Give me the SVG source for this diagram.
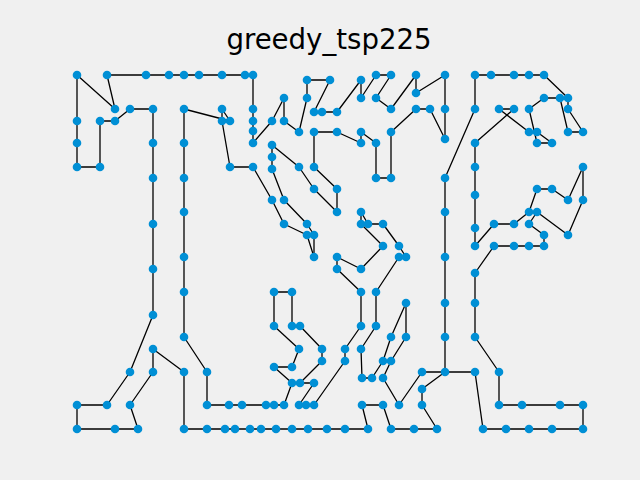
<svg xmlns="http://www.w3.org/2000/svg" width="640" height="480" viewBox="0 0 640 480">
<style>
.bg{fill:#f0f0f0}
.t{font-family:"DejaVu Sans",sans-serif;font-size:27.6px;fill:#000;text-anchor:middle}
#edges line{stroke:#000;stroke-width:1.3;stroke-linecap:round}
.nodes circle{fill:#008fd5}
</style>
<rect class="bg" x="0" y="0" width="640" height="480"/>
<text class="t" x="329" y="49">greedy_tsp225</text>
<g id="edges">
<line x1="77" y1="75" x2="77" y2="121"/><line x1="77" y1="121" x2="77" y2="143"/><line x1="77" y1="143" x2="77" y2="167"/><line x1="77" y1="167" x2="100" y2="167"/><line x1="100" y1="167" x2="100" y2="121"/><line x1="100" y1="121" x2="115" y2="121"/><line x1="115" y1="121" x2="130" y2="109"/><line x1="130" y1="109" x2="153" y2="109"/><line x1="153" y1="109" x2="153" y2="143"/><line x1="153" y1="143" x2="153" y2="178"/><line x1="153" y1="178" x2="153" y2="224"/><line x1="153" y1="224" x2="153" y2="269"/><line x1="153" y1="269" x2="153" y2="315"/><line x1="153" y1="315" x2="130" y2="372"/><line x1="130" y1="372" x2="107" y2="405"/><line x1="107" y1="405" x2="77" y2="405"/><line x1="77" y1="405" x2="77" y2="429"/><line x1="77" y1="429" x2="115" y2="429"/><line x1="115" y1="429" x2="138" y2="429"/><line x1="138" y1="429" x2="130" y2="405"/><line x1="130" y1="405" x2="153" y2="372"/><line x1="153" y1="372" x2="153" y2="349"/><line x1="153" y1="349" x2="184" y2="372"/><line x1="184" y1="372" x2="184" y2="429"/><line x1="184" y1="429" x2="207" y2="429"/><line x1="207" y1="429" x2="225" y2="429"/><line x1="225" y1="429" x2="235" y2="429"/><line x1="235" y1="429" x2="250" y2="429"/><line x1="250" y1="429" x2="261" y2="429"/><line x1="261" y1="429" x2="276" y2="429"/><line x1="276" y1="429" x2="292" y2="429"/><line x1="292" y1="429" x2="308" y2="429"/><line x1="308" y1="429" x2="327" y2="429"/><line x1="327" y1="429" x2="345" y2="429"/><line x1="345" y1="429" x2="368" y2="429"/><line x1="368" y1="429" x2="362" y2="405"/><line x1="362" y1="405" x2="383" y2="405"/><line x1="383" y1="405" x2="391" y2="429"/><line x1="391" y1="429" x2="414" y2="429"/><line x1="414" y1="429" x2="437" y2="429"/><line x1="437" y1="429" x2="422" y2="405"/><line x1="422" y1="405" x2="422" y2="389"/><line x1="422" y1="389" x2="445" y2="372"/><line x1="445" y1="372" x2="445" y2="337"/><line x1="445" y1="337" x2="445" y2="303"/><line x1="445" y1="303" x2="445" y2="257"/><line x1="445" y1="257" x2="445" y2="212"/><line x1="445" y1="212" x2="445" y2="178"/><line x1="445" y1="178" x2="475" y2="109"/><line x1="475" y1="109" x2="475" y2="75"/><line x1="475" y1="75" x2="491" y2="75"/><line x1="491" y1="75" x2="514" y2="75"/><line x1="514" y1="75" x2="529" y2="75"/><line x1="529" y1="75" x2="544" y2="75"/><line x1="544" y1="75" x2="568" y2="98"/><line x1="568" y1="98" x2="568" y2="109"/><line x1="568" y1="109" x2="583" y2="132"/><line x1="583" y1="132" x2="568" y2="132"/><line x1="568" y1="132" x2="560" y2="98"/><line x1="560" y1="98" x2="544" y2="98"/><line x1="544" y1="98" x2="529" y2="109"/><line x1="529" y1="109" x2="537" y2="143"/><line x1="537" y1="143" x2="552" y2="143"/><line x1="552" y1="143" x2="537" y2="132"/><line x1="537" y1="132" x2="529" y2="132"/><line x1="529" y1="132" x2="499" y2="109"/><line x1="499" y1="109" x2="514" y2="109"/><line x1="514" y1="109" x2="475" y2="143"/><line x1="475" y1="143" x2="475" y2="167"/><line x1="475" y1="167" x2="475" y2="195"/><line x1="475" y1="195" x2="475" y2="228"/><line x1="475" y1="228" x2="475" y2="246"/><line x1="475" y1="246" x2="494" y2="224"/><line x1="494" y1="224" x2="514" y2="224"/><line x1="514" y1="224" x2="529" y2="212"/><line x1="529" y1="212" x2="537" y2="189"/><line x1="537" y1="189" x2="552" y2="189"/><line x1="552" y1="189" x2="568" y2="200"/><line x1="568" y1="200" x2="583" y2="167"/><line x1="583" y1="167" x2="583" y2="200"/><line x1="583" y1="200" x2="568" y2="235"/><line x1="568" y1="235" x2="537" y2="212"/><line x1="537" y1="212" x2="529" y2="224"/><line x1="529" y1="224" x2="544" y2="235"/><line x1="544" y1="235" x2="544" y2="246"/><line x1="544" y1="246" x2="529" y2="246"/><line x1="529" y1="246" x2="514" y2="246"/><line x1="514" y1="246" x2="494" y2="246"/><line x1="494" y1="246" x2="475" y2="273"/><line x1="475" y1="273" x2="475" y2="303"/><line x1="475" y1="303" x2="475" y2="337"/><line x1="475" y1="337" x2="499" y2="372"/><line x1="499" y1="372" x2="499" y2="405"/><line x1="499" y1="405" x2="522" y2="405"/><line x1="522" y1="405" x2="560" y2="405"/><line x1="560" y1="405" x2="583" y2="405"/><line x1="583" y1="405" x2="583" y2="429"/><line x1="583" y1="429" x2="552" y2="429"/><line x1="552" y1="429" x2="529" y2="429"/><line x1="529" y1="429" x2="506" y2="429"/><line x1="506" y1="429" x2="483" y2="429"/><line x1="483" y1="429" x2="475" y2="372"/><line x1="475" y1="372" x2="422" y2="372"/><line x1="422" y1="372" x2="399" y2="405"/><line x1="399" y1="405" x2="383" y2="378"/><line x1="383" y1="378" x2="391" y2="361"/><line x1="391" y1="361" x2="406" y2="337"/><line x1="406" y1="337" x2="406" y2="303"/><line x1="406" y1="303" x2="391" y2="337"/><line x1="391" y1="337" x2="383" y2="361"/><line x1="383" y1="361" x2="372" y2="378"/><line x1="372" y1="378" x2="362" y2="378"/><line x1="362" y1="378" x2="361" y2="349"/><line x1="361" y1="349" x2="376" y2="326"/><line x1="376" y1="326" x2="376" y2="292"/><line x1="376" y1="292" x2="399" y2="257"/><line x1="399" y1="257" x2="406" y2="257"/><line x1="406" y1="257" x2="399" y2="246"/><line x1="399" y1="246" x2="383" y2="224"/><line x1="383" y1="224" x2="368" y2="224"/><line x1="368" y1="224" x2="361" y2="212"/><line x1="361" y1="212" x2="361" y2="224"/><line x1="361" y1="224" x2="383" y2="246"/><line x1="383" y1="246" x2="361" y2="269"/><line x1="361" y1="269" x2="337" y2="257"/><line x1="337" y1="257" x2="337" y2="269"/><line x1="337" y1="269" x2="361" y2="292"/><line x1="361" y1="292" x2="361" y2="326"/><line x1="361" y1="326" x2="345" y2="349"/><line x1="345" y1="349" x2="345" y2="361"/><line x1="345" y1="361" x2="314" y2="405"/><line x1="314" y1="405" x2="306" y2="405"/><line x1="306" y1="405" x2="299" y2="405"/><line x1="299" y1="405" x2="314" y2="383"/><line x1="314" y1="383" x2="300" y2="383"/><line x1="300" y1="383" x2="322" y2="361"/><line x1="322" y1="361" x2="322" y2="349"/><line x1="322" y1="349" x2="300" y2="326"/><line x1="300" y1="326" x2="292" y2="326"/><line x1="292" y1="326" x2="292" y2="292"/><line x1="292" y1="292" x2="274" y2="292"/><line x1="274" y1="292" x2="274" y2="326"/><line x1="274" y1="326" x2="299" y2="349"/><line x1="299" y1="349" x2="292" y2="367"/><line x1="292" y1="367" x2="274" y2="367"/><line x1="274" y1="367" x2="292" y2="383"/><line x1="292" y1="383" x2="284" y2="405"/><line x1="284" y1="405" x2="274" y2="405"/><line x1="274" y1="405" x2="266" y2="405"/><line x1="266" y1="405" x2="242" y2="405"/><line x1="242" y1="405" x2="229" y2="405"/><line x1="229" y1="405" x2="207" y2="405"/><line x1="207" y1="405" x2="207" y2="372"/><line x1="207" y1="372" x2="184" y2="337"/><line x1="184" y1="337" x2="184" y2="292"/><line x1="184" y1="292" x2="184" y2="257"/><line x1="184" y1="257" x2="184" y2="212"/><line x1="184" y1="212" x2="184" y2="178"/><line x1="184" y1="178" x2="184" y2="143"/><line x1="184" y1="143" x2="184" y2="109"/><line x1="184" y1="109" x2="230" y2="121"/><line x1="230" y1="121" x2="222" y2="109"/><line x1="222" y1="109" x2="222" y2="121"/><line x1="222" y1="121" x2="230" y2="167"/><line x1="230" y1="167" x2="253" y2="167"/><line x1="253" y1="167" x2="272" y2="200"/><line x1="272" y1="200" x2="284" y2="224"/><line x1="284" y1="224" x2="307" y2="235"/><line x1="307" y1="235" x2="314" y2="257"/><line x1="314" y1="257" x2="314" y2="235"/><line x1="314" y1="235" x2="307" y2="224"/><line x1="307" y1="224" x2="284" y2="200"/><line x1="284" y1="200" x2="272" y2="169"/><line x1="272" y1="169" x2="272" y2="157"/><line x1="272" y1="157" x2="272" y2="145"/><line x1="272" y1="145" x2="299" y2="167"/><line x1="299" y1="167" x2="314" y2="189"/><line x1="314" y1="189" x2="337" y2="212"/><line x1="337" y1="212" x2="337" y2="189"/><line x1="337" y1="189" x2="314" y2="167"/><line x1="314" y1="167" x2="314" y2="132"/><line x1="314" y1="132" x2="337" y2="132"/><line x1="337" y1="132" x2="361" y2="143"/><line x1="361" y1="143" x2="361" y2="132"/><line x1="361" y1="132" x2="376" y2="143"/><line x1="376" y1="143" x2="376" y2="178"/><line x1="376" y1="178" x2="391" y2="178"/><line x1="391" y1="178" x2="391" y2="132"/><line x1="391" y1="132" x2="416" y2="109"/><line x1="416" y1="109" x2="430" y2="109"/><line x1="430" y1="109" x2="445" y2="139"/><line x1="445" y1="139" x2="445" y2="109"/><line x1="445" y1="109" x2="445" y2="75"/><line x1="445" y1="75" x2="416" y2="93"/><line x1="416" y1="93" x2="416" y2="75"/><line x1="416" y1="75" x2="391" y2="109"/><line x1="391" y1="109" x2="376" y2="98"/><line x1="376" y1="98" x2="391" y2="75"/><line x1="391" y1="75" x2="376" y2="75"/><line x1="376" y1="75" x2="361" y2="98"/><line x1="361" y1="98" x2="361" y2="80"/><line x1="361" y1="80" x2="337" y2="112"/><line x1="337" y1="112" x2="322" y2="112"/><line x1="322" y1="112" x2="314" y2="112"/><line x1="314" y1="112" x2="330" y2="80"/><line x1="330" y1="80" x2="307" y2="80"/><line x1="307" y1="80" x2="307" y2="98"/><line x1="307" y1="98" x2="299" y2="132"/><line x1="299" y1="132" x2="284" y2="121"/><line x1="284" y1="121" x2="284" y2="98"/><line x1="284" y1="98" x2="272" y2="121"/><line x1="272" y1="121" x2="253" y2="143"/><line x1="253" y1="143" x2="253" y2="131"/><line x1="253" y1="131" x2="253" y2="121"/><line x1="253" y1="121" x2="253" y2="109"/><line x1="253" y1="109" x2="253" y2="75"/><line x1="253" y1="75" x2="245" y2="75"/><line x1="245" y1="75" x2="222" y2="75"/><line x1="222" y1="75" x2="199" y2="75"/><line x1="199" y1="75" x2="184" y2="75"/><line x1="184" y1="75" x2="169" y2="75"/><line x1="169" y1="75" x2="146" y2="75"/><line x1="146" y1="75" x2="107" y2="75"/><line x1="107" y1="75" x2="115" y2="109"/><line x1="115" y1="109" x2="77" y2="75"/>
</g>
<g class="nodes">
<g id="n1"><circle cx="77" cy="75" r="4.3"/></g><g id="n2"><circle cx="77" cy="121" r="4.3"/></g><g id="n3"><circle cx="77" cy="143" r="4.3"/></g><g id="n4"><circle cx="77" cy="167" r="4.3"/></g><g id="n5"><circle cx="100" cy="167" r="4.3"/></g><g id="n6"><circle cx="100" cy="121" r="4.3"/></g><g id="n7"><circle cx="115" cy="121" r="4.3"/></g><g id="n8"><circle cx="130" cy="109" r="4.3"/></g><g id="n9"><circle cx="153" cy="109" r="4.3"/></g><g id="n10"><circle cx="153" cy="143" r="4.3"/></g>
<g id="n11"><circle cx="153" cy="178" r="4.3"/></g><g id="n12"><circle cx="153" cy="224" r="4.3"/></g><g id="n13"><circle cx="153" cy="269" r="4.3"/></g><g id="n14"><circle cx="153" cy="315" r="4.3"/></g><g id="n15"><circle cx="130" cy="372" r="4.3"/></g><g id="n16"><circle cx="107" cy="405" r="4.3"/></g><g id="n17"><circle cx="77" cy="405" r="4.3"/></g><g id="n18"><circle cx="77" cy="429" r="4.3"/></g><g id="n19"><circle cx="115" cy="429" r="4.3"/></g><g id="n20"><circle cx="138" cy="429" r="4.3"/></g>
<g id="n21"><circle cx="130" cy="405" r="4.3"/></g><g id="n22"><circle cx="153" cy="372" r="4.3"/></g><g id="n23"><circle cx="153" cy="349" r="4.3"/></g><g id="n24"><circle cx="184" cy="372" r="4.3"/></g><g id="n25"><circle cx="184" cy="429" r="4.3"/></g><g id="n26"><circle cx="207" cy="429" r="4.3"/></g><g id="n27"><circle cx="225" cy="429" r="4.3"/></g><g id="n28"><circle cx="235" cy="429" r="4.3"/></g><g id="n29"><circle cx="250" cy="429" r="4.3"/></g><g id="n30"><circle cx="261" cy="429" r="4.3"/></g>
<g id="n31"><circle cx="276" cy="429" r="4.3"/></g><g id="n32"><circle cx="292" cy="429" r="4.3"/></g><g id="n33"><circle cx="308" cy="429" r="4.3"/></g><g id="n34"><circle cx="327" cy="429" r="4.3"/></g><g id="n35"><circle cx="345" cy="429" r="4.3"/></g><g id="n36"><circle cx="368" cy="429" r="4.3"/></g><g id="n37"><circle cx="362" cy="405" r="4.3"/></g><g id="n38"><circle cx="383" cy="405" r="4.3"/></g><g id="n39"><circle cx="391" cy="429" r="4.3"/></g><g id="n40"><circle cx="414" cy="429" r="4.3"/></g>
<g id="n41"><circle cx="437" cy="429" r="4.3"/></g><g id="n42"><circle cx="422" cy="405" r="4.3"/></g><g id="n43"><circle cx="422" cy="389" r="4.3"/></g><g id="n44"><circle cx="445" cy="372" r="4.3"/></g><g id="n45"><circle cx="445" cy="337" r="4.3"/></g><g id="n46"><circle cx="445" cy="303" r="4.3"/></g><g id="n47"><circle cx="445" cy="257" r="4.3"/></g><g id="n48"><circle cx="445" cy="212" r="4.3"/></g><g id="n49"><circle cx="445" cy="178" r="4.3"/></g><g id="n50"><circle cx="475" cy="109" r="4.3"/></g>
<g id="n51"><circle cx="475" cy="75" r="4.3"/></g><g id="n52"><circle cx="491" cy="75" r="4.3"/></g><g id="n53"><circle cx="514" cy="75" r="4.3"/></g><g id="n54"><circle cx="529" cy="75" r="4.3"/></g><g id="n55"><circle cx="544" cy="75" r="4.3"/></g><g id="n56"><circle cx="568" cy="98" r="4.3"/></g><g id="n57"><circle cx="568" cy="109" r="4.3"/></g><g id="n58"><circle cx="583" cy="132" r="4.3"/></g><g id="n59"><circle cx="568" cy="132" r="4.3"/></g><g id="n60"><circle cx="560" cy="98" r="4.3"/></g>
<g id="n61"><circle cx="544" cy="98" r="4.3"/></g><g id="n62"><circle cx="529" cy="109" r="4.3"/></g><g id="n63"><circle cx="537" cy="143" r="4.3"/></g><g id="n64"><circle cx="552" cy="143" r="4.3"/></g><g id="n65"><circle cx="537" cy="132" r="4.3"/></g><g id="n66"><circle cx="529" cy="132" r="4.3"/></g><g id="n67"><circle cx="499" cy="109" r="4.3"/></g><g id="n68"><circle cx="514" cy="109" r="4.3"/></g><g id="n69"><circle cx="475" cy="143" r="4.3"/></g><g id="n70"><circle cx="475" cy="167" r="4.3"/></g>
<g id="n71"><circle cx="475" cy="195" r="4.3"/></g><g id="n72"><circle cx="475" cy="228" r="4.3"/></g><g id="n73"><circle cx="475" cy="246" r="4.3"/></g><g id="n74"><circle cx="494" cy="224" r="4.3"/></g><g id="n75"><circle cx="514" cy="224" r="4.3"/></g><g id="n76"><circle cx="529" cy="212" r="4.3"/></g><g id="n77"><circle cx="537" cy="189" r="4.3"/></g><g id="n78"><circle cx="552" cy="189" r="4.3"/></g><g id="n79"><circle cx="568" cy="200" r="4.3"/></g><g id="n80"><circle cx="583" cy="167" r="4.3"/></g>
<g id="n81"><circle cx="583" cy="200" r="4.3"/></g><g id="n82"><circle cx="568" cy="235" r="4.3"/></g><g id="n83"><circle cx="537" cy="212" r="4.3"/></g><g id="n84"><circle cx="529" cy="224" r="4.3"/></g><g id="n85"><circle cx="544" cy="235" r="4.3"/></g><g id="n86"><circle cx="544" cy="246" r="4.3"/></g><g id="n87"><circle cx="529" cy="246" r="4.3"/></g><g id="n88"><circle cx="514" cy="246" r="4.3"/></g><g id="n89"><circle cx="494" cy="246" r="4.3"/></g><g id="n90"><circle cx="475" cy="273" r="4.3"/></g>
<g id="n91"><circle cx="475" cy="303" r="4.3"/></g><g id="n92"><circle cx="475" cy="337" r="4.3"/></g><g id="n93"><circle cx="499" cy="372" r="4.3"/></g><g id="n94"><circle cx="499" cy="405" r="4.3"/></g><g id="n95"><circle cx="522" cy="405" r="4.3"/></g><g id="n96"><circle cx="560" cy="405" r="4.3"/></g><g id="n97"><circle cx="583" cy="405" r="4.3"/></g><g id="n98"><circle cx="583" cy="429" r="4.3"/></g><g id="n99"><circle cx="552" cy="429" r="4.3"/></g><g id="n100"><circle cx="529" cy="429" r="4.3"/></g>
<g id="n101"><circle cx="506" cy="429" r="4.3"/></g><g id="n102"><circle cx="483" cy="429" r="4.3"/></g><g id="n103"><circle cx="475" cy="372" r="4.3"/></g><g id="n104"><circle cx="422" cy="372" r="4.3"/></g><g id="n105"><circle cx="399" cy="405" r="4.3"/></g><g id="n106"><circle cx="383" cy="378" r="4.3"/></g><g id="n107"><circle cx="391" cy="361" r="4.3"/></g><g id="n108"><circle cx="406" cy="337" r="4.3"/></g><g id="n109"><circle cx="406" cy="303" r="4.3"/></g><g id="n110"><circle cx="391" cy="337" r="4.3"/></g>
<g id="n111"><circle cx="383" cy="361" r="4.3"/></g><g id="n112"><circle cx="372" cy="378" r="4.3"/></g><g id="n113"><circle cx="362" cy="378" r="4.3"/></g><g id="n114"><circle cx="361" cy="349" r="4.3"/></g><g id="n115"><circle cx="376" cy="326" r="4.3"/></g><g id="n116"><circle cx="376" cy="292" r="4.3"/></g><g id="n117"><circle cx="399" cy="257" r="4.3"/></g><g id="n118"><circle cx="406" cy="257" r="4.3"/></g><g id="n119"><circle cx="399" cy="246" r="4.3"/></g><g id="n120"><circle cx="383" cy="224" r="4.3"/></g>
<g id="n121"><circle cx="368" cy="224" r="4.3"/></g><g id="n122"><circle cx="361" cy="212" r="4.3"/></g><g id="n123"><circle cx="361" cy="224" r="4.3"/></g><g id="n124"><circle cx="383" cy="246" r="4.3"/></g><g id="n125"><circle cx="361" cy="269" r="4.3"/></g><g id="n126"><circle cx="337" cy="257" r="4.3"/></g><g id="n127"><circle cx="337" cy="269" r="4.3"/></g><g id="n128"><circle cx="361" cy="292" r="4.3"/></g><g id="n129"><circle cx="361" cy="326" r="4.3"/></g><g id="n130"><circle cx="345" cy="349" r="4.3"/></g>
<g id="n131"><circle cx="345" cy="361" r="4.3"/></g><g id="n132"><circle cx="314" cy="405" r="4.3"/></g><g id="n133"><circle cx="306" cy="405" r="4.3"/></g><g id="n134"><circle cx="299" cy="405" r="4.3"/></g><g id="n135"><circle cx="314" cy="383" r="4.3"/></g><g id="n136"><circle cx="300" cy="383" r="4.3"/></g><g id="n137"><circle cx="322" cy="361" r="4.3"/></g><g id="n138"><circle cx="322" cy="349" r="4.3"/></g><g id="n139"><circle cx="300" cy="326" r="4.3"/></g><g id="n140"><circle cx="292" cy="326" r="4.3"/></g>
<g id="n141"><circle cx="292" cy="292" r="4.3"/></g><g id="n142"><circle cx="274" cy="292" r="4.3"/></g><g id="n143"><circle cx="274" cy="326" r="4.3"/></g><g id="n144"><circle cx="299" cy="349" r="4.3"/></g><g id="n145"><circle cx="292" cy="367" r="4.3"/></g><g id="n146"><circle cx="274" cy="367" r="4.3"/></g><g id="n147"><circle cx="292" cy="383" r="4.3"/></g><g id="n148"><circle cx="284" cy="405" r="4.3"/></g><g id="n149"><circle cx="274" cy="405" r="4.3"/></g><g id="n150"><circle cx="266" cy="405" r="4.3"/></g>
<g id="n151"><circle cx="242" cy="405" r="4.3"/></g><g id="n152"><circle cx="229" cy="405" r="4.3"/></g><g id="n153"><circle cx="207" cy="405" r="4.3"/></g><g id="n154"><circle cx="207" cy="372" r="4.3"/></g><g id="n155"><circle cx="184" cy="337" r="4.3"/></g><g id="n156"><circle cx="184" cy="292" r="4.3"/></g><g id="n157"><circle cx="184" cy="257" r="4.3"/></g><g id="n158"><circle cx="184" cy="212" r="4.3"/></g><g id="n159"><circle cx="184" cy="178" r="4.3"/></g><g id="n160"><circle cx="184" cy="143" r="4.3"/></g>
<g id="n161"><circle cx="184" cy="109" r="4.3"/></g><g id="n162"><circle cx="230" cy="121" r="4.3"/></g><g id="n163"><circle cx="222" cy="109" r="4.3"/></g><g id="n164"><circle cx="222" cy="121" r="4.3"/></g><g id="n165"><circle cx="230" cy="167" r="4.3"/></g><g id="n166"><circle cx="253" cy="167" r="4.3"/></g><g id="n167"><circle cx="272" cy="200" r="4.3"/></g><g id="n168"><circle cx="284" cy="224" r="4.3"/></g><g id="n169"><circle cx="307" cy="235" r="4.3"/></g><g id="n170"><circle cx="314" cy="257" r="4.3"/></g>
<g id="n171"><circle cx="314" cy="235" r="4.3"/></g><g id="n172"><circle cx="307" cy="224" r="4.3"/></g><g id="n173"><circle cx="284" cy="200" r="4.3"/></g><g id="n174"><circle cx="272" cy="169" r="4.3"/></g><g id="n175"><circle cx="272" cy="157" r="4.3"/></g><g id="n176"><circle cx="272" cy="145" r="4.3"/></g><g id="n177"><circle cx="299" cy="167" r="4.3"/></g><g id="n178"><circle cx="314" cy="189" r="4.3"/></g><g id="n179"><circle cx="337" cy="212" r="4.3"/></g><g id="n180"><circle cx="337" cy="189" r="4.3"/></g>
<g id="n181"><circle cx="314" cy="167" r="4.3"/></g><g id="n182"><circle cx="314" cy="132" r="4.3"/></g><g id="n183"><circle cx="337" cy="132" r="4.3"/></g><g id="n184"><circle cx="361" cy="143" r="4.3"/></g><g id="n185"><circle cx="361" cy="132" r="4.3"/></g><g id="n186"><circle cx="376" cy="143" r="4.3"/></g><g id="n187"><circle cx="376" cy="178" r="4.3"/></g><g id="n188"><circle cx="391" cy="178" r="4.3"/></g><g id="n189"><circle cx="391" cy="132" r="4.3"/></g><g id="n190"><circle cx="416" cy="109" r="4.3"/></g>
<g id="n191"><circle cx="430" cy="109" r="4.3"/></g><g id="n192"><circle cx="445" cy="139" r="4.3"/></g><g id="n193"><circle cx="445" cy="109" r="4.3"/></g><g id="n194"><circle cx="445" cy="75" r="4.3"/></g><g id="n195"><circle cx="416" cy="93" r="4.3"/></g><g id="n196"><circle cx="416" cy="75" r="4.3"/></g><g id="n197"><circle cx="391" cy="109" r="4.3"/></g><g id="n198"><circle cx="376" cy="98" r="4.3"/></g><g id="n199"><circle cx="391" cy="75" r="4.3"/></g><g id="n200"><circle cx="376" cy="75" r="4.3"/></g>
<g id="n201"><circle cx="361" cy="98" r="4.3"/></g><g id="n202"><circle cx="361" cy="80" r="4.3"/></g><g id="n203"><circle cx="337" cy="112" r="4.3"/></g><g id="n204"><circle cx="322" cy="112" r="4.3"/></g><g id="n205"><circle cx="314" cy="112" r="4.3"/></g><g id="n206"><circle cx="330" cy="80" r="4.3"/></g><g id="n207"><circle cx="307" cy="80" r="4.3"/></g><g id="n208"><circle cx="307" cy="98" r="4.3"/></g><g id="n209"><circle cx="299" cy="132" r="4.3"/></g><g id="n210"><circle cx="284" cy="121" r="4.3"/></g>
<g id="n211"><circle cx="284" cy="98" r="4.3"/></g><g id="n212"><circle cx="272" cy="121" r="4.3"/></g><g id="n213"><circle cx="253" cy="143" r="4.3"/></g><g id="n214"><circle cx="253" cy="131" r="4.3"/></g><g id="n215"><circle cx="253" cy="121" r="4.3"/></g><g id="n216"><circle cx="253" cy="109" r="4.3"/></g><g id="n217"><circle cx="253" cy="75" r="4.3"/></g><g id="n218"><circle cx="245" cy="75" r="4.3"/></g><g id="n219"><circle cx="222" cy="75" r="4.3"/></g><g id="n220"><circle cx="199" cy="75" r="4.3"/></g>
<g id="n221"><circle cx="184" cy="75" r="4.3"/></g><g id="n222"><circle cx="169" cy="75" r="4.3"/></g><g id="n223"><circle cx="146" cy="75" r="4.3"/></g><g id="n224"><circle cx="107" cy="75" r="4.3"/></g><g id="n225"><circle cx="115" cy="109" r="4.3"/></g>
</g>
</svg>
